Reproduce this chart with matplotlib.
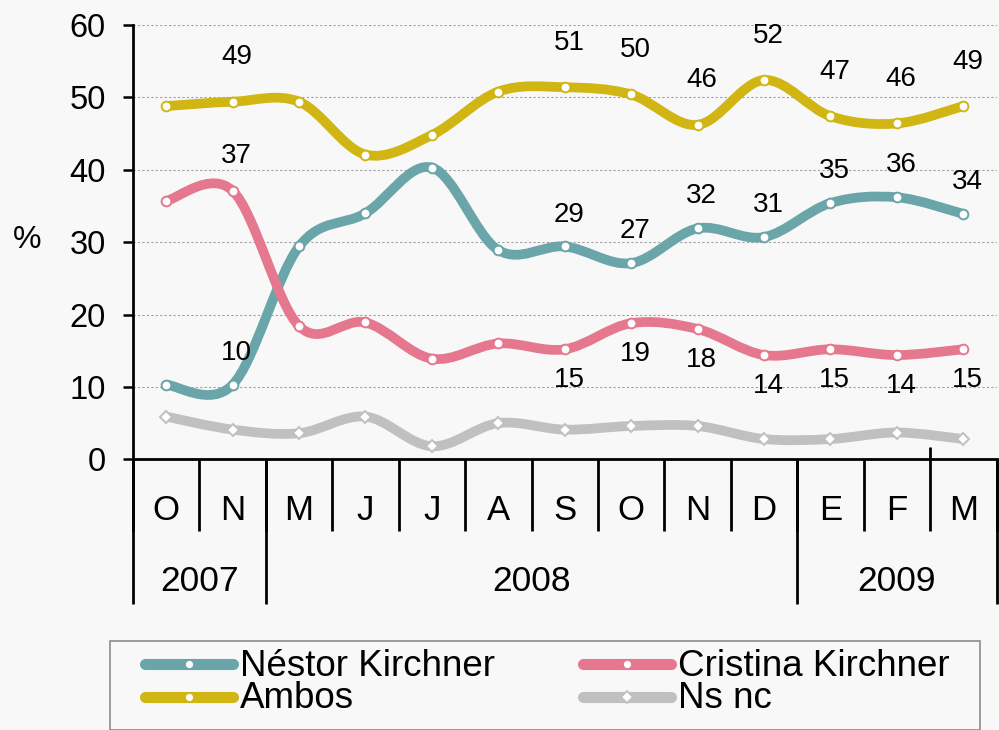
import matplotlib
matplotlib.use('Agg')
import numpy as np
import matplotlib.pyplot as plt
from matplotlib.path import Path
from matplotlib.patches import PathPatch, Rectangle
from matplotlib.lines import Line2D

plt.rcParams['font.family'] = ['Liberation Sans', 'DejaVu Sans']

# --- données ---
mois = ['O', 'N', 'M', 'J', 'J', 'A', 'S', 'O', 'N', 'D', 'E', 'F', 'M']
annees = ['2007', '2008', '2009']
annees_debut = [0, 2, 10]      # indice du premier mois de chaque année
annees_fin = [1, 9, 12]        # indice du dernier mois

nestor = [10.3, 10.3, 29.4, 34.0, 40.3, 28.9, 29.4, 27.1, 31.9, 30.7, 35.4, 36.2, 33.9]
cristina = [35.7, 37.1, 18.4, 18.9, 13.9, 16.0, 15.2, 18.8, 18.0, 14.4, 15.2, 14.4, 15.2]
ambos = [48.8, 49.4, 49.4, 42.1, 44.8, 50.8, 51.4, 50.4, 46.2, 52.4, 47.4, 46.4, 48.8]
nsnc = [5.9, 4.1, 3.6, 5.9, 1.8, 5.0, 4.1, 4.6, 4.6, 2.8, 2.8, 3.7, 2.8]

# points qui portent une étiquette de valeur
idx_etiquettes = [1, 6, 7, 8, 9, 10, 11, 12]

C_NESTOR = '#6aa5a9'
C_CRISTINA = '#e5788f'
C_AMBOS = '#d0b513'
C_NSNC = '#c0c0c0'
FOND = '#f8f8f8'


def courbe_lissee(x, y):
    """Chemin de Bézier passant par les points (lissage type tableur)."""
    pts = np.column_stack([x, y]).astype(float)
    n = len(pts)
    verts = [pts[0]]
    codes = [Path.MOVETO]
    for i in range(n - 1):
        p_prec = pts[max(i - 1, 0)]
        p_suiv = pts[min(i + 2, n - 1)]
        c1 = pts[i] + (pts[i + 1] - p_prec) / 6
        c2 = pts[i + 1] - (p_suiv - pts[i]) / 6
        verts += [c1, c2, pts[i + 1]]
        codes += [Path.CURVE4] * 3
    return Path(verts, codes)


fig = plt.figure(figsize=(9.99, 7.30), dpi=100, facecolor=FOND)
ax = fig.add_axes([133 / 999, 1 - 459.3 / 730, (996.5 - 133) / 999, (459.3 - 25) / 730])
ax.set_facecolor(FOND)

x = np.arange(len(mois))
series = [
    ('Néstor Kirchner', nestor, C_NESTOR, 'o'),
    ('Cristina Kirchner', cristina, C_CRISTINA, 'o'),
    ('Ambos', ambos, C_AMBOS, 'o'),
    ('Ns nc', nsnc, C_NSNC, 'D'),
]

for nom, vals, coul, mk in series:
    patch = PathPatch(courbe_lissee(x, vals), facecolor='none', edgecolor=coul,
                      lw=7, capstyle='round', joinstyle='round', zorder=3)
    ax.add_patch(patch)
    ax.plot(x, vals, ls='none', marker=mk, ms=7 if mk == 'o' else 6.5,
            mfc='white', mec=coul, mew=1.4, zorder=4)

# étiquettes de valeurs
decalages = {'Néstor Kirchner': 23, 'Ambos': 32, 'Cristina Kirchner': -22}
for nom, vals, coul, mk in series[:3]:
    for i in idx_etiquettes:
        dy = decalages[nom]
        if nom == 'Cristina Kirchner' and i == 1:
            dy = 25
        ax.annotate(f'{vals[i]:.0f}', (x[i], vals[i]), xytext=(3, dy),
                    textcoords='offset points', ha='center', va='center',
                    fontsize=20, zorder=5)

ax.set_xlim(-0.5, len(mois) - 0.5)
ax.set_ylim(0, 60)
ax.set_yticks(range(0, 61, 10))
ax.yaxis.grid(True, color='#a0a0a0', ls=(0, (2, 2)), lw=0.8)
ax.set_axisbelow(True)
ax.tick_params(axis='y', labelsize=23.5, length=7.5, width=1.8, pad=12, direction='out')
ax.set_xticks([])
for s in ['top', 'right']:
    ax.spines[s].set_visible(False)
for s in ['left', 'bottom']:
    ax.spines[s].set_linewidth(2)

# séparateurs de mois et d'années sous l'axe
trans = ax.get_xaxis_transform()
h = 434.3  # hauteur des axes en pixels
bords = np.arange(len(mois) + 1) - 0.5
ax.vlines(bords, -72 / h, 0, transform=trans, colors='black', lw=2, clip_on=False)
bords_annees = [annees_debut[0] - 0.5] + [f + 0.5 for f in annees_fin]
ax.vlines(bords_annees, -145 / h, 0, transform=trans, colors='black', lw=2, clip_on=False)
ax.vlines([11.5], 0, 12 / h, transform=trans, colors='black', lw=2, clip_on=False)

for i, m in enumerate(mois):
    ax.text(i, -51 / h, m, transform=trans, ha='center', va='center', fontsize=25)
for a, d, f in zip(annees, annees_debut, annees_fin):
    ax.text((d + f) / 2, -122 / h, a, transform=trans, ha='center', va='center', fontsize=25.5)

fig.text(27 / 999, 1 - 240 / 730, '%', ha='center', va='center', fontsize=23)

# légende dessinée à la main
fig.add_artist(Rectangle((110 / 999, 0), (980 - 110) / 999, 1 - 641 / 730,
                         transform=fig.transFigure, facecolor=FOND,
                         edgecolor='#8c8c8c', lw=1.2))
pos_leg = {
    'Néstor Kirchner': (145, 664),
    'Cristina Kirchner': (583, 664),
    'Ambos': (145, 697),
    'Ns nc': (583, 697),
}
for nom, vals, coul, mk in series:
    x0, y0 = pos_leg[nom]
    yf = 1 - y0 / 730
    fig.add_artist(Line2D([x0 / 999, (x0 + 88) / 999], [yf, yf], transform=fig.transFigure,
                          color=coul, lw=8, solid_capstyle='round'))
    fig.add_artist(Line2D([(x0 + 44) / 999], [yf], transform=fig.transFigure, ls='none',
                          marker=mk, ms=6.5 if mk == 'o' else 6, mfc='white', mec=coul, mew=1.3))
    fig.text((x0 + 95) / 999, yf - 2 / 730, nom, ha='left', va='center', fontsize=26.5)

plt.savefig('out.png', dpi=100, facecolor=FOND)
